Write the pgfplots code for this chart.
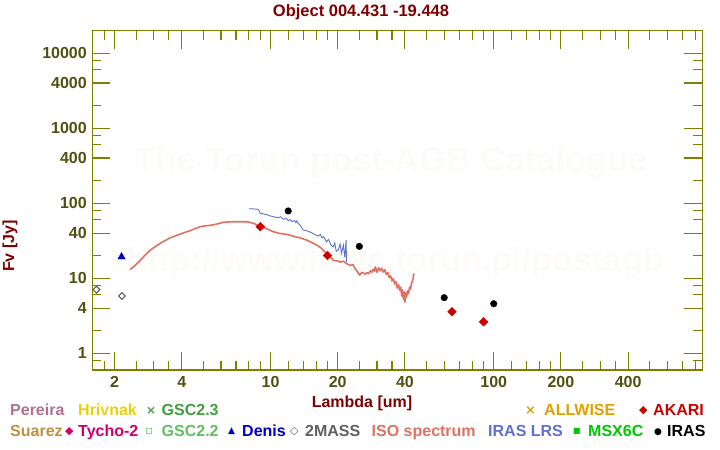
\documentclass[border=0pt]{standalone}
\usepackage{pgfplots}
\pgfplotsset{compat=1.18}
\usepackage{fontspec}
\setmainfont{Liberation Sans}
\newfontfamily\dejavusym{DejaVu Sans}
\definecolor{axcol}{RGB}{128,128,0}
\definecolor{tickcol}{RGB}{80,80,16}
\definecolor{titlecol}{RGB}{128,0,0}
\definecolor{isocol}{RGB}{224,112,96}
\definecolor{lrscol}{RGB}{96,112,208}
\definecolor{akaricol}{RGB}{204,0,0}
\definecolor{deniscol}{RGB}{0,0,192}
\definecolor{tmasscol}{RGB}{96,96,96}
\definecolor{pereiracol}{RGB}{176,112,144}
\definecolor{hrivnakcol}{RGB}{232,208,16}
\definecolor{gsctcol}{RGB}{64,160,64}
\definecolor{allwisecol}{RGB}{224,160,0}
\definecolor{suarezcol}{RGB}{192,144,64}
\definecolor{tychocol}{RGB}{208,0,112}
\definecolor{gsctwocol}{RGB}{96,192,96}
\definecolor{msxcol}{RGB}{0,200,0}
\definecolor{wmcol}{RGB}{253,251,248}
\newcommand{\bigbf}{\fontsize{16bp}{19bp}\selectfont\bfseries}
\pgfplotsset{tk/.style={draw=axcol, line width=1.1bp, mark=none, forget plot}}
\begin{document}
\begin{tikzpicture}
\path[use as bounding box] (0bp,0bp) rectangle (720bp,450bp);
\node[text=wmcol, font=\fontsize{34.5bp}{40bp}\selectfont\bfseries] at (391bp,287bp) {The Torun post-AGB Catalogue};
\node[text=wmcol, font=\fontsize{34bp}{40bp}\selectfont\bfseries] at (395bp,187bp) {http://www.ncac.torun.pl/postagb};
\begin{axis}[
  at={(92.3bp,80bp)}, anchor=south west,
  scale only axis, width=610bp, height=339.5bp,
  xmode=log, ymode=log,
  xmin=1.59, xmax=860, ymin=0.6, ymax=20000,
  axis line style={draw=axcol, line width=1.4bp},
  tickwidth=18bp, subtickwidth=9bp,
  tick style={draw=axcol, line width=1.1bp},
  xtick={2,4,10,20,40,100,200,400},
  xticklabels={2,4,10,20,40,100,200,400},
  minor xtick={1.8,2.5,3,3.5,5,6,7,8,9,12,14,16,18,25,30,35,50,60,70,80,90,120,140,160,180,250,300,350,500,600,700,800},
  ytick={1,4,10,40,100,400,1000,4000,10000},
  yticklabels={1,4,10,40,100,400,1000,4000,10000},
  minor ytick={0.8,2,6,8,20,60,80,200,600,800,2000,6000,8000},
  xticklabel style={font=\bigbf, text=tickcol, yshift=-3bp},
  yticklabel style={font=\bigbf, text=tickcol, xshift=-2bp},
]
% ---- tick marks on all four sides (major 18 px, minor 9 px) ----
\addplot[tk] coordinates {(2,0.6) (2,1.043)};
\addplot[tk] coordinates {(4,0.6) (4,1.043)};
\addplot[tk] coordinates {(10,0.6) (10,1.043)};
\addplot[tk] coordinates {(20,0.6) (20,1.043)};
\addplot[tk] coordinates {(40,0.6) (40,1.043)};
\addplot[tk] coordinates {(100,0.6) (100,1.043)};
\addplot[tk] coordinates {(200,0.6) (200,1.043)};
\addplot[tk] coordinates {(400,0.6) (400,1.043)};
\addplot[tk] coordinates {(2,20000) (2,11510)};
\addplot[tk] coordinates {(4,20000) (4,11510)};
\addplot[tk] coordinates {(10,20000) (10,11510)};
\addplot[tk] coordinates {(20,20000) (20,11510)};
\addplot[tk] coordinates {(40,20000) (40,11510)};
\addplot[tk] coordinates {(100,20000) (100,11510)};
\addplot[tk] coordinates {(200,20000) (200,11510)};
\addplot[tk] coordinates {(400,20000) (400,11510)};
\addplot[tk] coordinates {(1.8,0.6) (1.8,0.791)};
\addplot[tk] coordinates {(2.5,0.6) (2.5,0.791)};
\addplot[tk] coordinates {(3,0.6) (3,0.791)};
\addplot[tk] coordinates {(3.5,0.6) (3.5,0.791)};
\addplot[tk] coordinates {(5,0.6) (5,0.791)};
\addplot[tk] coordinates {(6,0.6) (6,0.791)};
\addplot[tk] coordinates {(7,0.6) (7,0.791)};
\addplot[tk] coordinates {(8,0.6) (8,0.791)};
\addplot[tk] coordinates {(9,0.6) (9,0.791)};
\addplot[tk] coordinates {(12,0.6) (12,0.791)};
\addplot[tk] coordinates {(14,0.6) (14,0.791)};
\addplot[tk] coordinates {(16,0.6) (16,0.791)};
\addplot[tk] coordinates {(18,0.6) (18,0.791)};
\addplot[tk] coordinates {(25,0.6) (25,0.791)};
\addplot[tk] coordinates {(30,0.6) (30,0.791)};
\addplot[tk] coordinates {(35,0.6) (35,0.791)};
\addplot[tk] coordinates {(50,0.6) (50,0.791)};
\addplot[tk] coordinates {(60,0.6) (60,0.791)};
\addplot[tk] coordinates {(70,0.6) (70,0.791)};
\addplot[tk] coordinates {(80,0.6) (80,0.791)};
\addplot[tk] coordinates {(90,0.6) (90,0.791)};
\addplot[tk] coordinates {(120,0.6) (120,0.791)};
\addplot[tk] coordinates {(140,0.6) (140,0.791)};
\addplot[tk] coordinates {(160,0.6) (160,0.791)};
\addplot[tk] coordinates {(180,0.6) (180,0.791)};
\addplot[tk] coordinates {(250,0.6) (250,0.791)};
\addplot[tk] coordinates {(300,0.6) (300,0.791)};
\addplot[tk] coordinates {(350,0.6) (350,0.791)};
\addplot[tk] coordinates {(500,0.6) (500,0.791)};
\addplot[tk] coordinates {(600,0.6) (600,0.791)};
\addplot[tk] coordinates {(700,0.6) (700,0.791)};
\addplot[tk] coordinates {(800,0.6) (800,0.791)};
\addplot[tk] coordinates {(1.8,20000) (1.8,15170)};
\addplot[tk] coordinates {(2.5,20000) (2.5,15170)};
\addplot[tk] coordinates {(3,20000) (3,15170)};
\addplot[tk] coordinates {(3.5,20000) (3.5,15170)};
\addplot[tk] coordinates {(5,20000) (5,15170)};
\addplot[tk] coordinates {(6,20000) (6,15170)};
\addplot[tk] coordinates {(7,20000) (7,15170)};
\addplot[tk] coordinates {(8,20000) (8,15170)};
\addplot[tk] coordinates {(9,20000) (9,15170)};
\addplot[tk] coordinates {(12,20000) (12,15170)};
\addplot[tk] coordinates {(14,20000) (14,15170)};
\addplot[tk] coordinates {(16,20000) (16,15170)};
\addplot[tk] coordinates {(18,20000) (18,15170)};
\addplot[tk] coordinates {(25,20000) (25,15170)};
\addplot[tk] coordinates {(30,20000) (30,15170)};
\addplot[tk] coordinates {(35,20000) (35,15170)};
\addplot[tk] coordinates {(50,20000) (50,15170)};
\addplot[tk] coordinates {(60,20000) (60,15170)};
\addplot[tk] coordinates {(70,20000) (70,15170)};
\addplot[tk] coordinates {(80,20000) (80,15170)};
\addplot[tk] coordinates {(90,20000) (90,15170)};
\addplot[tk] coordinates {(120,20000) (120,15170)};
\addplot[tk] coordinates {(140,20000) (140,15170)};
\addplot[tk] coordinates {(160,20000) (160,15170)};
\addplot[tk] coordinates {(180,20000) (180,15170)};
\addplot[tk] coordinates {(250,20000) (250,15170)};
\addplot[tk] coordinates {(300,20000) (300,15170)};
\addplot[tk] coordinates {(350,20000) (350,15170)};
\addplot[tk] coordinates {(500,20000) (500,15170)};
\addplot[tk] coordinates {(600,20000) (600,15170)};
\addplot[tk] coordinates {(700,20000) (700,15170)};
\addplot[tk] coordinates {(800,20000) (800,15170)};
\addplot[tk] coordinates {(1.59,1) (1.915,1)};
\addplot[tk] coordinates {(1.59,4) (1.915,4)};
\addplot[tk] coordinates {(1.59,10) (1.915,10)};
\addplot[tk] coordinates {(1.59,40) (1.915,40)};
\addplot[tk] coordinates {(1.59,100) (1.915,100)};
\addplot[tk] coordinates {(1.59,400) (1.915,400)};
\addplot[tk] coordinates {(1.59,1000) (1.915,1000)};
\addplot[tk] coordinates {(1.59,4000) (1.915,4000)};
\addplot[tk] coordinates {(1.59,10000) (1.915,10000)};
\addplot[tk] coordinates {(860,1) (714,1)};
\addplot[tk] coordinates {(860,4) (714,4)};
\addplot[tk] coordinates {(860,10) (714,10)};
\addplot[tk] coordinates {(860,40) (714,40)};
\addplot[tk] coordinates {(860,100) (714,100)};
\addplot[tk] coordinates {(860,400) (714,400)};
\addplot[tk] coordinates {(860,1000) (714,1000)};
\addplot[tk] coordinates {(860,4000) (714,4000)};
\addplot[tk] coordinates {(860,10000) (714,10000)};
\addplot[tk] coordinates {(1.59,0.8) (1.744,0.8)};
\addplot[tk] coordinates {(1.59,2) (1.744,2)};
\addplot[tk] coordinates {(1.59,6) (1.744,6)};
\addplot[tk] coordinates {(1.59,8) (1.744,8)};
\addplot[tk] coordinates {(1.59,20) (1.744,20)};
\addplot[tk] coordinates {(1.59,60) (1.744,60)};
\addplot[tk] coordinates {(1.59,80) (1.744,80)};
\addplot[tk] coordinates {(1.59,200) (1.744,200)};
\addplot[tk] coordinates {(1.59,600) (1.744,600)};
\addplot[tk] coordinates {(1.59,800) (1.744,800)};
\addplot[tk] coordinates {(1.59,2000) (1.744,2000)};
\addplot[tk] coordinates {(1.59,6000) (1.744,6000)};
\addplot[tk] coordinates {(1.59,8000) (1.744,8000)};
\addplot[tk] coordinates {(860,0.8) (784,0.8)};
\addplot[tk] coordinates {(860,2) (784,2)};
\addplot[tk] coordinates {(860,6) (784,6)};
\addplot[tk] coordinates {(860,8) (784,8)};
\addplot[tk] coordinates {(860,20) (784,20)};
\addplot[tk] coordinates {(860,60) (784,60)};
\addplot[tk] coordinates {(860,80) (784,80)};
\addplot[tk] coordinates {(860,200) (784,200)};
\addplot[tk] coordinates {(860,600) (784,600)};
\addplot[tk] coordinates {(860,800) (784,800)};
\addplot[tk] coordinates {(860,2000) (784,2000)};
\addplot[tk] coordinates {(860,6000) (784,6000)};
\addplot[tk] coordinates {(860,8000) (784,8000)};
% ISO spectrum
\addplot[color=isocol, line width=1.6bp, line join=round, mark=none] table {
2.35 13.1
2.45 14.5
2.61 17.4
2.75 20.5
2.89 23.7
3.05 26.5
3.20 29.1
3.35 31.5
3.55 34.6
3.75 36.8
3.94 38.8
4.15 41.0
4.36 43.0
4.60 46.0
4.84 48.6
5.10 50.0
5.36 50.7
5.70 52.5
6.15 55.7
6.60 56.5
7.00 56.7
7.30 56.7
7.82 56.7
8.38 54.0
8.90 49.5
9.50 46.5
10.3 41.7
11.0 39.5
11.5 39.0
12.2 37.6
13.0 35.5
13.5 34.8
14.5 32.3
15.3 30.0
16.1 27.7
16.8 25.5
17.8 21.5
18.5 19.5
19.1 17.4
20.0 17.0
20.5 16.4
21.2 16.9
21.9 15.7
22.8 14.8
23.4 15.2
23.9 13.5
24.5 12.3
25.1 11.0
25.6 12.0
26.0 11.8
26.5 11.3
27.0 11.9
27.5 11.5
28.0 12.6
28.4 12.0
28.8 13.2
29.2 12.4
29.5 14.2
30.0 12.0
30.5 13.8
31.0 12.6
31.5 13.6
32.0 12.1
32.5 13.0
33.0 11.2
33.5 12.0
34.0 10.2
34.5 10.8
35.0 9.2
35.5 9.9
36.0 8.4
36.5 9.0
37.0 7.4
37.5 8.2
37.9 6.9
38.3 7.6
38.7 5.8
39.0 7.0
39.4 5.2
39.8 6.6
40.0 4.8
40.4 6.4
40.7 5.6
41.1 6.8
41.5 6.2
42.0 7.6
42.4 7.2
42.8 8.6
43.3 9.3
43.9 11.6
};
% IRAS LRS
\addplot[color=lrscol, line width=0.9bp, mark=none] table {
8.03 84.7
8.82 83
8.98 73.5
9.5 71
10.0 67.5
10.3 66.1
10.8 64
11.1 66
11.4 61.1
11.8 62.5
12.0 58.5
12.2 60.5
12.5 56.8
12.8 59
13.0 55
13.1 58
13.3 54
13.5 52
14.0 44
14.5 43
15.3 40.4
16.0 37.5
16.4 36.5
16.7 38.5
17.0 34.5
17.3 35.7
17.6 32.5
17.8 30.6
18.2 33
18.6 28
19.1 26.2
19.4 29.5
19.7 23
20.1 23.7
20.5 28.5
20.8 21.5
21.2 27.7
21.5 19
21.8 32.3
21.9 16.5
};
% IRAS
\addplot[only marks, mark=*, mark size=3.3bp, color=black] table {
12 78.9
25 26.6
60 5.52
100 4.58
};
% AKARI
\addplot[only marks, mark=square*, mark size=3.1bp, mark options={rotate=45}, color=akaricol] table {
9 48.6
18 20.1
65 3.58
90 2.63
};
% Denis
\addplot[only marks, mark=triangle*, mark size=4.3bp, color=deniscol] table {
2.15 19.3
};
% 2MASS
\addplot[only marks, mark=square, mark size=2.4bp, mark options={rotate=45, line width=1.1bp}, color=tmasscol] table {
1.66 7.06
2.16 5.8
};
\end{axis}
% title and labels
\node[text=titlecol, font=\fontsize{16.5bp}{19bp}\selectfont\bfseries] at (361bp,438bp) {Object 004.431 -19.448};
\node[text=titlecol, font=\bigbf, rotate=90] at (10bp,204bp) {Fv [Jy]};
\node[text=titlecol, font=\bigbf] at (362bp,47bp) {Lambda [um]};
% legend
\begin{scope}[every node/.style={anchor=base west, inner sep=0pt, font=\bigbf}]
\node[text=pereiracol] at (10bp,35bp) {Pereira};
\node[text=hrivnakcol] at (78bp,35bp) {Hrivnak};
\node[text=gsctcol, font=\dejavusym\bfseries\fontsize{12bp}{12bp}\selectfont] at (146bp,36bp) {×};
\node[text=gsctcol] at (161.5bp,35bp) {GSC2.3};
\node[text=allwisecol, font=\dejavusym\bfseries\fontsize{13bp}{12bp}\selectfont] at (525bp,36bp) {×};
\node[text=allwisecol] at (544bp,35bp) {ALLWISE};
\node[text=akaricol, font=\dejavusym\fontsize{11bp}{12bp}\selectfont] at (639bp,36.5bp) {◆};
\node[text=akaricol] at (653bp,35bp) {AKARI};
\node[text=suarezcol] at (10bp,14bp) {Suarez};
\node[text=tychocol, font=\dejavusym\fontsize{11bp}{12bp}\selectfont] at (65bp,15.5bp) {◆};
\node[text=tychocol] at (78bp,14bp) {Tycho-2};
\node[text=gsctwocol, font=\dejavusym\bfseries\fontsize{12bp}{12bp}\selectfont] at (145bp,15.5bp) {▫};
\node[text=gsctwocol] at (161.5bp,14bp) {GSC2.2};
\node[text=deniscol, font=\dejavusym\fontsize{9bp}{12bp}\selectfont] at (228bp,16.5bp) {▲};
\node[text=deniscol] at (242bp,14bp) {Denis};
\node[text=tmasscol, font=\dejavusym\bfseries\fontsize{11bp}{12bp}\selectfont] at (290bp,15.5bp) {◇};
\node[text=tmasscol] at (305bp,14bp) {2MASS};
\node[text=isocol] at (371.5bp,14bp) {ISO spectrum};
\node[text=lrscol] at (488bp,14bp) {IRAS LRS};
\node[text=msxcol, font=\dejavusym\fontsize{8bp}{12bp}\selectfont] at (573bp,16.5bp) {■};
\node[text=msxcol] at (588bp,14bp) {MSX6C};
\node[text=black, font=\dejavusym\fontsize{9bp}{12bp}\selectfont] at (654bp,16bp) {●};
\node[text=black] at (667bp,14bp) {IRAS};
\end{scope}
\end{tikzpicture}
\end{document}
